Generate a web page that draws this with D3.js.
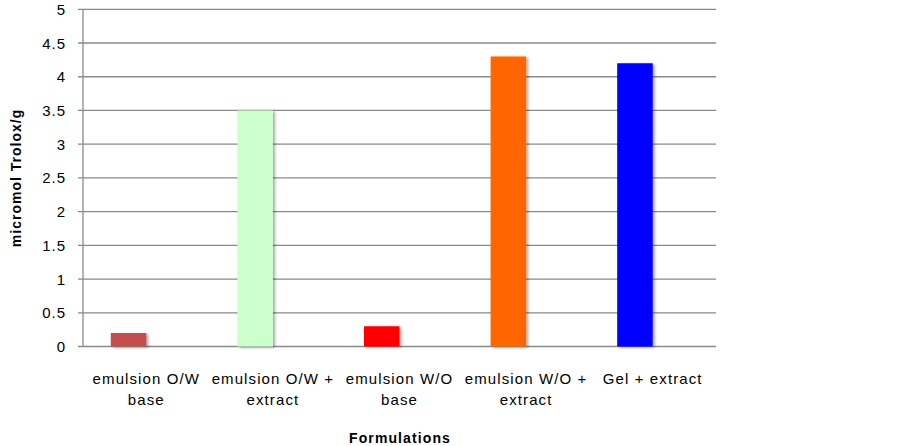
<!DOCTYPE html>
<html><head><meta charset="utf-8">
<script src="https://cdn.jsdelivr.net/npm/d3@7"></script>
<style>body{margin:0;background:#fff}svg{display:block}text{font-family:"Liberation Sans",Arial,sans-serif}</style>
</head><body>
<script>
const categories = [["emulsion O/W","base"],["emulsion O/W +","extract"],["emulsion W/O","base"],["emulsion W/O +","extract"],["Gel + extract"]];
const values = [0.2, 3.5, 0.3, 4.3, 4.2];
const colors = ["#C0504D","#CCFFCC","#FF0000","#FF6600","#0000FF"];
const yTicks = [0,0.5,1,1.5,2,2.5,3,3.5,4,4.5,5];
const yTickLabels = ["0","0.5","1","1.5","2","2.5","3","3.5","4","4.5","5"];
const yTitle = "micromol Trolox/g", xTitle = "Formulations";

const W=899,H=446, L=83, R=716, T=9.3, B=346.5;
const svg=d3.select("body").append("svg").attr("width",W).attr("height",H);
const defs=svg.append("defs");
const f=defs.append("filter").attr("id","sh").attr("x","-20%").attr("y","-20%").attr("width","150%").attr("height","140%");
f.append("feGaussianBlur").attr("in","SourceAlpha").attr("stdDeviation",1.5).attr("result","b");
f.append("feOffset").attr("in","b").attr("dx",2).attr("dy",1).attr("result","o");
f.append("feComponentTransfer").attr("in","o").attr("result","o2").append("feFuncA").attr("type","linear").attr("slope",0.35);
const m=f.append("feMerge"); m.append("feMergeNode").attr("in","o2"); m.append("feMergeNode").attr("in","SourceGraphic");

const x=d3.scaleBand().domain(d3.range(categories.length)).range([L,R]).paddingInner(0).paddingOuter(0);
const y=d3.scaleLinear().domain([0,5]).range([B,T]);

// gridlines
svg.append("g").selectAll("line").data(yTicks).join("line")
 .attr("x1",L-5).attr("x2",R).attr("y1",d=>y(d)).attr("y2",d=>y(d))
 .attr("stroke","#8a8a8a").attr("stroke-width",1.3);
// y axis line
svg.append("line").attr("x1",L).attr("x2",L).attr("y1",T).attr("y2",B).attr("stroke","#8a8a8a").attr("stroke-width",1.3);

svg.append("g").selectAll("text").data(yTicks).join("text")
 .attr("x",66).attr("y",d=>y(d)+5.5).attr("text-anchor","end")
 .style("font-size","15px").style("letter-spacing","1px").attr("fill","#000")
 .text((d,i)=>yTickLabels[i]);

const bw=35.5;
svg.append("g").selectAll("rect").data(values).join("rect")
 .attr("x",(d,i)=>x(i)+x.bandwidth()/2-bw).attr("width",bw)
 .attr("y",d=>y(d)).attr("height",d=>y(0)-y(d))
 .attr("fill",(d,i)=>colors[i]).attr("filter","url(#sh)");

const xl=svg.append("g");
categories.forEach((c,i)=>{
  c.forEach((s,j)=>{
    xl.append("text").attr("x",x(i)+x.bandwidth()/2).attr("y",384+j*21)
      .attr("text-anchor","middle").style("font-size","15px").style("letter-spacing","1.1px").text(s);
  });
});

svg.append("text").attr("x",400).attr("y",443).attr("text-anchor","middle")
 .style("font-size","14px").style("font-weight","bold").style("letter-spacing","1.1px").text(xTitle);
svg.append("text").attr("transform","translate(21,178) rotate(-90)").attr("text-anchor","middle")
 .style("font-size","14px").style("font-weight","bold").style("letter-spacing","1px").text(yTitle);
</script>
</body></html>
